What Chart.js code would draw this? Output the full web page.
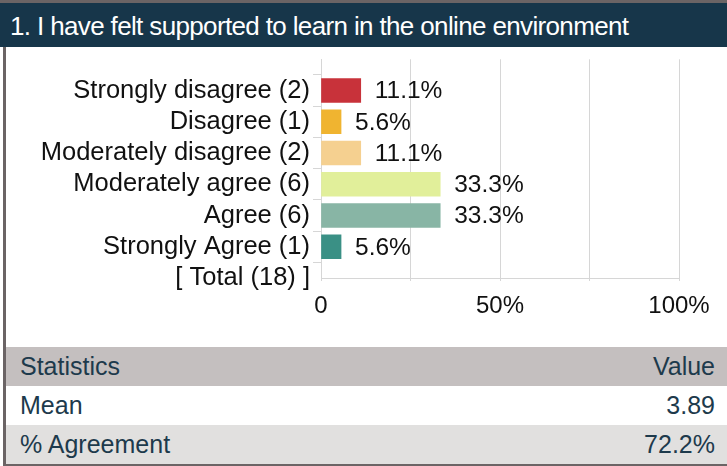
<!DOCTYPE html>
<html>
<head>
<meta charset="utf-8">
<script src="https://cdn.jsdelivr.net/npm/chart.js@4.4.1/dist/chart.umd.min.js"></script>
<style>
  html, body { margin: 0; padding: 0; background: #fff; }
  body { width: 727px; height: 466px; position: relative; overflow: hidden; font-family: "Liberation Sans", Arial, sans-serif; }
  .topline { position: absolute; left: 0; top: 0; width: 727px; height: 3px; background: #6b6465; z-index: 3; }
  .title { position: absolute; left: 0; top: 3px; width: 727px; height: 44px; background: #17364a; color: #fff; z-index: 3;
           font-size: 26px; line-height: 47px; padding-left: 10px; box-sizing: border-box; letter-spacing: -0.64px; white-space: nowrap; }
  .box { position: absolute; left: 3px; top: 47px; width: 724px; height: 419px; border-left: 3px solid #6b6465;
         border-bottom: 3px solid #6b6465; box-sizing: border-box; }
  .chart-holder { position: absolute; left: 0; top: -6px; width: 721px; height: 306px; }
  table { position: absolute; left: 0; top: 300px; width: 721px; border-collapse: collapse; font-size: 25px; color: #1d3a4c; }
  td { height: 39px; padding: 0 12px 0 14px; }
  td.v { text-align: right; }
  tr.head td { background: #c4bfbf; }
  tr.alt td { background: #e1e0df; }
</style>
</head>
<body>
<div class="topline"></div>
<div class="title">1. I have felt supported to learn in the online environment</div>
<div class="box">
  <div class="chart-holder"><canvas id="chart" width="721" height="306"></canvas></div>
  <table id="stats"></table>
</div>
<script>
// answer categories (top to bottom) and their share of responses in %
const categories = ['Strongly disagree (2)', 'Disagree (1)', 'Moderately disagree (2)', 'Moderately agree (6)', 'Agree (6)', 'Strongly Agree (1)', '[ Total (18) ]'];
const percents = [11.1, 5.6, 11.1, 33.3, 33.3, 5.6, null];
const percentLabels = ['11.1%', '5.6%', '11.1%', '33.3%', '33.3%', '5.6%', ''];
const barColors = ['#c8323a', '#f0b430', '#f5d090', '#e1ef9a', '#88b5a5', '#3a9085', '#ffffff'];
const xTicks = { 0: '0', 50: '50%', 100: '100%' };

const statNames = ['Mean', '% Agreement'];
const statValues = ['3.89', '72.2%'];

// stats table
let html = '<tr class="head"><td>Statistics</td><td class="v">Value</td></tr>';
statNames.forEach((n, i) => {
    html += `<tr class="${i % 2 ? 'alt' : ''}"><td>${n}</td><td class="v">${statValues[i]}</td></tr>`;
});
document.getElementById('stats').innerHTML = html;

const FONT = "'Liberation Sans', Arial, sans-serif";
const gridColor = '#d6d6d6';

// empty slot on top so the first bar sits one step below the top of the grid
const labels = [''].concat(categories);
const data = [null].concat(percents);

const valueLabels = {
    id: 'valueLabels',
    afterDatasetsDraw(chart) {
        const ctx = chart.ctx;
        const meta = chart.getDatasetMeta(0);
        ctx.save();
        ctx.font = '24.5px ' + FONT;
        ctx.fillStyle = '#111';
        ctx.textBaseline = 'middle';
        meta.data.forEach((bar, i) => {
            const t = i > 0 ? percentLabels[i - 1] : '';
            if (!t) return;
            ctx.fillText(t, bar.x + 14, bar.y + 1);
        });
        ctx.restore();
    }
};

new Chart(document.getElementById('chart'), {
    type: 'bar',
    data: {
        labels: labels,
        datasets: [{
            data: data,
            backgroundColor: [null].concat(barColors),
            barThickness: 24,
            borderWidth: 0
        }]
    },
    options: {
        indexAxis: 'y',
        responsive: false,
        animation: false,
        layout: { padding: { top: 13, right: 48, left: 0, bottom: 0 } },
        plugins: { legend: { display: false }, tooltip: { enabled: false } },
        scales: {
            x: {
                min: 0,
                max: 100,
                ticks: {
                    stepSize: 25,
                    autoSkip: false,
                    maxRotation: 0,
                    color: '#111',
                    font: { size: 24, family: FONT },
                    padding: 11,
                    callback: v => xTicks[v] !== undefined ? xTicks[v] : ''
                },
                grid: { color: gridColor, tickLength: 3, tickColor: gridColor },
                border: { color: gridColor },
                afterFit: s => { s.height = 69; }
            },
            y: {
                offset: false,
                ticks: { color: '#111', font: { size: 25.5, family: FONT }, padding: 3, autoSkip: false },
                grid: {
                    drawOnChartArea: false,
                    tickLength: 8,
                    tickColor: c => c.index === 0 ? 'rgba(0,0,0,0)' : gridColor
                },
                border: { color: gridColor },
                afterFit: s => { s.width = 315; }
            }
        }
    },
    plugins: [valueLabels]
});
</script>
</body>
</html>
